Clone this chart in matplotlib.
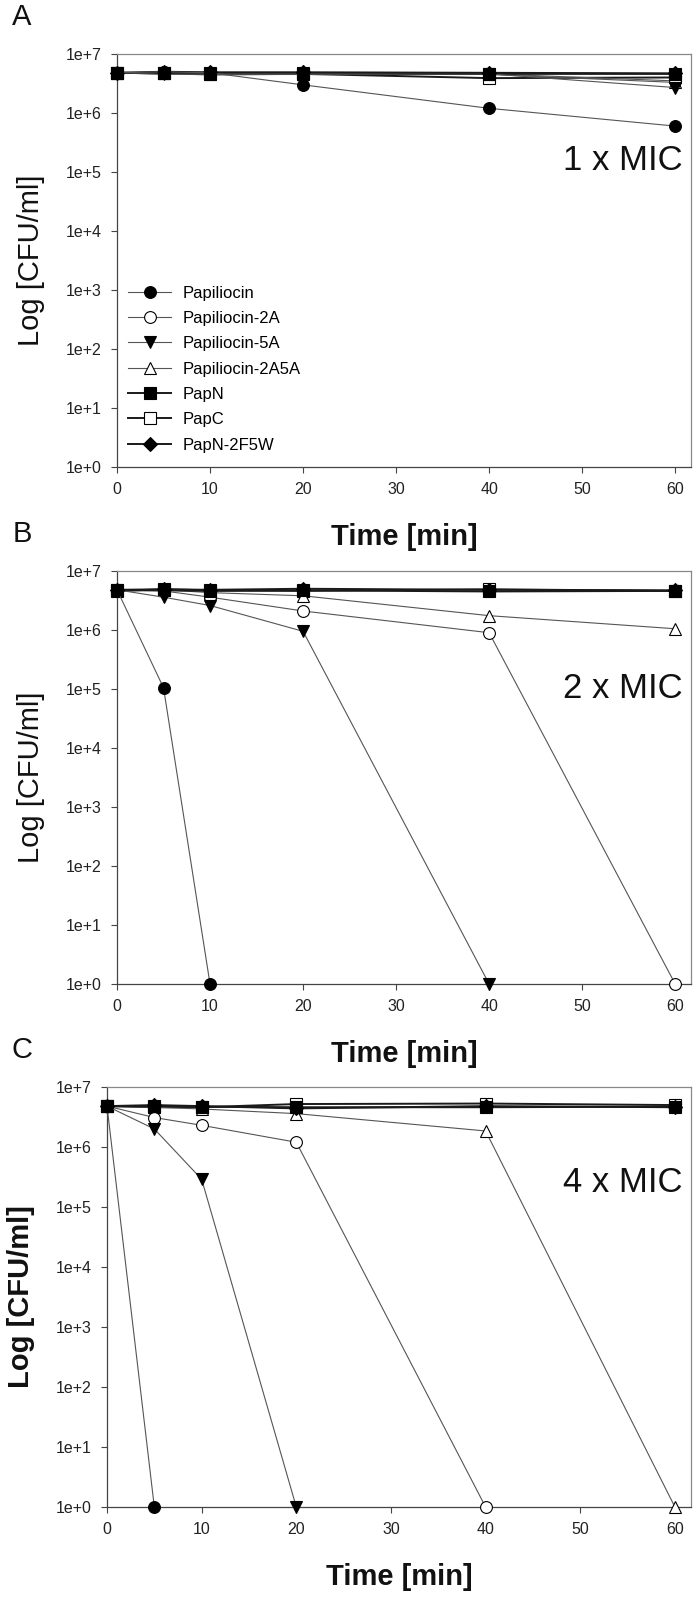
import matplotlib
matplotlib.use("Agg")
import matplotlib.pyplot as plt
import numpy as np

plt.rcParams['font.family'] = ['Liberation Sans', 'DejaVu Sans']

times = [0, 5, 10, 20, 40, 60]
series_names = ["Papiliocin", "Papiliocin-2A", "Papiliocin-5A", "Papiliocin-2A5A",
                "PapN", "PapC", "PapN-2F5W"]

# Panel A : 1 x MIC
a_pap    = [4.8e6, 5.0e6, 4.8e6, 3.0e6, 1.2e6, 6.0e5]
a_pap2a  = [4.8e6, 4.9e6, 4.7e6, 4.6e6, 4.6e6, 3.5e6]
a_pap5a  = [4.8e6, 4.5e6, 4.6e6, 4.6e6, 4.6e6, 2.7e6]
a_pap2a5a = [4.8e6, 4.8e6, 4.5e6, 4.5e6, 4.5e6, 3.3e6]
a_papn   = [4.8e6, 4.8e6, 4.7e6, 4.7e6, 4.6e6, 4.6e6]
a_papc   = [4.8e6, 4.7e6, 4.5e6, 4.6e6, 3.9e6, 4.0e6]
a_papn2f5w = [4.8e6, 5.0e6, 4.9e6, 4.9e6, 4.8e6, 4.7e6]

# Panel B : 2 x MIC
b_pap    = [4.8e6, 1.05e5, 1.0]
b_pap_t  = [0, 5, 10]
b_pap2a  = [4.8e6, 4.6e6, 3.6e6, 2.1e6, 9.0e5, 1.0]
b_pap5a  = [4.8e6, 3.6e6, 2.6e6, 9.5e5, 1.0]
b_pap5a_t = [0, 5, 10, 20, 40]
b_pap2a5a = [4.8e6, 4.8e6, 4.3e6, 3.8e6, 1.75e6, 1.05e6]
b_papn   = [4.7e6, 4.7e6, 4.6e6, 4.7e6, 4.5e6, 4.6e6]
b_papc   = [4.6e6, 4.9e6, 4.7e6, 4.6e6, 4.9e6, 4.6e6]
b_papn2f5w = [4.8e6, 4.9e6, 4.8e6, 5.0e6, 4.8e6, 4.7e6]

# Panel C : 4 x MIC
c_pap    = [4.8e6, 1.0]
c_pap_t  = [0, 5]
c_pap2a  = [4.8e6, 3.1e6, 2.3e6, 1.2e6, 1.0]
c_pap2a_t = [0, 5, 10, 20, 40]
c_pap5a  = [4.8e6, 2.0e6, 2.9e5, 1.0]
c_pap5a_t = [0, 5, 10, 20]
c_pap2a5a = [4.8e6, 4.6e6, 4.3e6, 3.6e6, 1.85e6, 1.0]
c_papn   = [4.8e6, 4.8e6, 4.7e6, 4.6e6, 4.6e6, 4.7e6]
c_papc   = [4.8e6, 4.6e6, 4.6e6, 5.2e6, 5.3e6, 5.0e6]
c_papn2f5w = [4.8e6, 5.0e6, 4.8e6, 4.4e6, 4.8e6, 4.6e6]

ytick_vals = [1, 1e1, 1e2, 1e3, 1e4, 1e5, 1e6, 1e7]
ytick_labels = ["1e+0", "1e+1", "1e+2", "1e+3", "1e+4", "1e+5", "1e+6", "1e+7"]
xtick_vals = [0, 10, 20, 30, 40, 50, 60]

styles = {
    "Papiliocin":      dict(marker='o', mfc='black'),
    "Papiliocin-2A":   dict(marker='o', mfc='white'),
    "Papiliocin-5A":   dict(marker='v', mfc='black'),
    "Papiliocin-2A5A": dict(marker='^', mfc='white'),
    "PapN":            dict(marker='s', mfc='black'),
    "PapC":            dict(marker='s', mfc='white'),
    "PapN-2F5W":       dict(marker='D', mfc='black'),
}

panels = [
    dict(letter="A", mic="1 x MIC", mic_y=10**5.2, rect=[117, 54, 691, 467], ylab_w='normal',
         data=[(times, a_pap), (times, a_pap2a), (times, a_pap5a), (times, a_pap2a5a),
               (times, a_papn), (times, a_papc), (times, a_papn2f5w)]),
    dict(letter="B", mic="2 x MIC", mic_y=10**5.0, rect=[117, 571, 691, 984], ylab_w='normal',
         data=[(b_pap_t, b_pap), (times, b_pap2a), (b_pap5a_t, b_pap5a), (times, b_pap2a5a),
               (times, b_papn), (times, b_papc), (times, b_papn2f5w)]),
    dict(letter="C", mic="4 x MIC", mic_y=10**5.4, rect=[107, 1087, 691, 1507], ylab_w='bold',
         data=[(c_pap_t, c_pap), (c_pap2a_t, c_pap2a), (c_pap5a_t, c_pap5a), (times, c_pap2a5a),
               (times, c_papn), (times, c_papc), (times, c_papn2f5w)]),
]

W, H = 700, 1599
fig = plt.figure(figsize=(W / 100, H / 100), dpi=100)

# open markers first, filled markers on top
draw_order = [5, 3, 1, 4, 2, 6, 0]

for p in panels:
    l, t, r, b = p["rect"]
    ax = fig.add_axes([l / W, 1 - b / H, (r - l) / W, (b - t) / H])
    ax.set_yscale('log')
    handles = {}
    for z, i in enumerate(draw_order):
        name = series_names[i]
        x, y = p["data"][i]
        st = styles[name]
        lc = '#1a1a1a' if i >= 4 else '#555555'
        lw = 1.4 if i >= 4 else 0.8
        ln, = ax.plot(x, y, color=lc, lw=lw, marker=st['marker'], mfc=st['mfc'],
                      mec='black', mew=0.8, ms=8.5 if st['marker'] != 'D' else 7.5,
                      clip_on=False, zorder=3 + z * 0.1)
        handles[name] = ln
    ax.set_xlim(0, 61.7)
    ax.set_ylim(1, 1e7)
    ax.set_xticks(xtick_vals)
    ax.set_xticklabels([str(v) for v in xtick_vals])
    ax.set_yticks(ytick_vals)
    ax.set_yticklabels(ytick_labels)
    ax.yaxis.set_minor_locator(matplotlib.ticker.NullLocator())
    ax.tick_params(axis='both', direction='out', length=4, width=0.8, color='#444444',
                   labelsize=11.5, labelcolor='#222222', pad=7)
    for side in ['left', 'bottom']:
        ax.spines[side].set_color('#444444')
        ax.spines[side].set_linewidth(0.9)
    for side in ['top', 'right']:
        ax.spines[side].set_color('#888888')
        ax.spines[side].set_linewidth(0.9)
    ax.text(0.985, p["mic_y"], p["mic"], transform=ax.get_yaxis_transform(),
            ha='right', va='center', fontsize=25, color='#111111')
    fig.text(22 / W, 1 - (t - 37) / H, p["letter"], fontsize=21, ha='center', va='center',
             color='#111111')
    fig.text(((l + r) / 2) / W, 1 - (b + 70) / H, "Time [min]", fontsize=21, fontweight='bold',
             ha='center', va='center', color='#111111')
    fig.text((l - 86) / W, 1 - ((t + b) / 2) / H, "Log [CFU/ml]", fontsize=21,
             fontweight=p["ylab_w"], rotation=90, ha='center', va='center', color='#111111')
    if p["letter"] == "A":
        hl = [handles[n] for n in series_names]
        ax.legend(hl, series_names, loc='lower left', bbox_to_anchor=(0.019, 0.035),
                  frameon=False, fontsize=12, handlelength=2.6, handletextpad=0.7,
                  labelspacing=0.62, borderpad=0, borderaxespad=0)

fig.savefig("out.png", dpi=100)
